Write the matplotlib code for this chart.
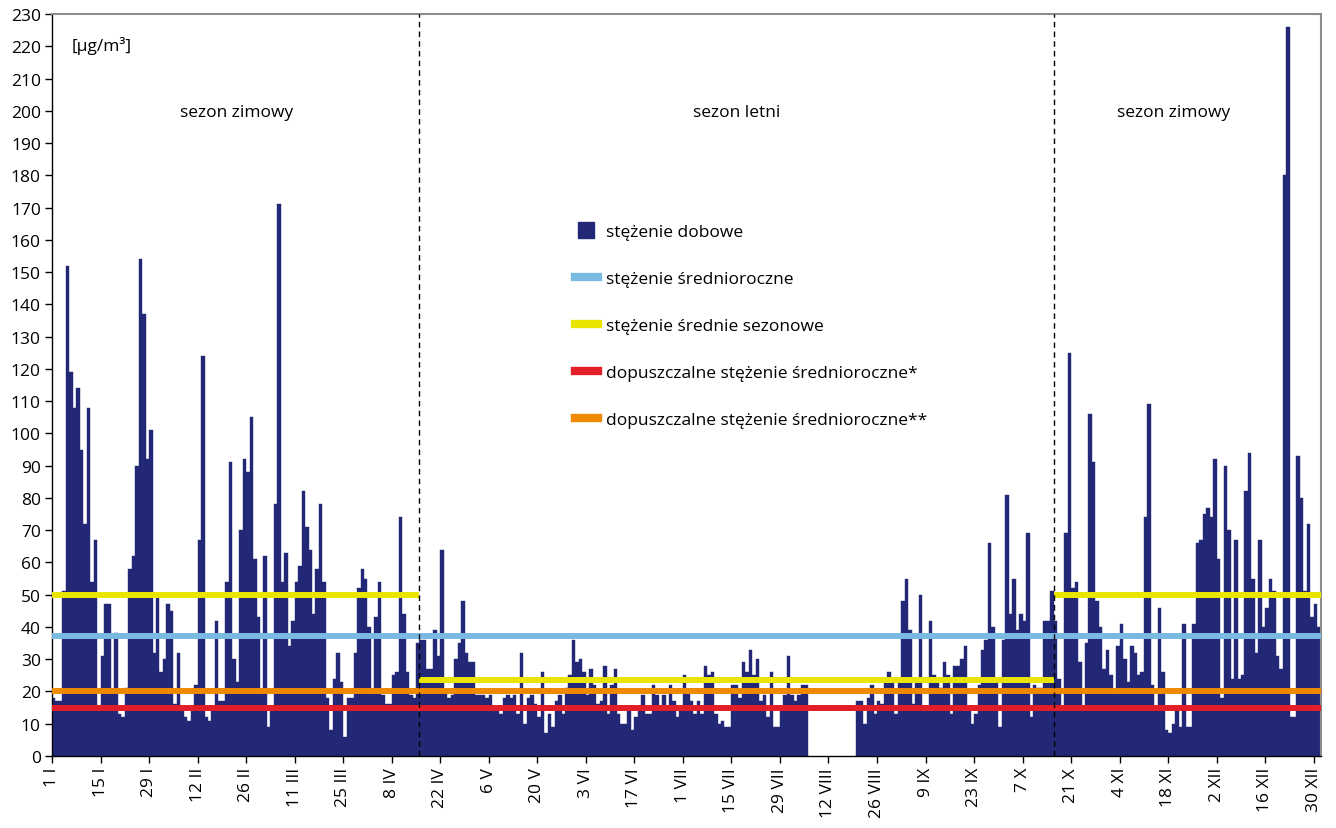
import matplotlib
matplotlib.use("Agg")
import matplotlib.pyplot as plt
import numpy as np
from matplotlib.lines import Line2D

plt.rcParams['font.family'] = ['Open Sans', 'DejaVu Sans']

# stężenie dobowe [µg/m³], rok przestępny, dzień po dniu
jan = [18, 17, 17, 51, 152, 119, 108, 114, 95, 72, 108, 54, 67, 14, 31, 47,
       47, 20, 38, 13, 12, 21, 58, 62, 90, 154, 137, 92, 101, 32, 49]
feb = [26, 30, 47, 45, 16, 32, 14, 12, 11, 14, 22, 67, 124, 12, 11, 14, 42,
       17, 17, 54, 91, 30, 23, 70, 92, 88, 105, 61, 43]
mar = [20, 62, 9, 14, 78, 171, 54, 63, 34, 42, 54, 59, 82, 71, 64, 44, 58,
       78, 54, 18, 8, 24, 32, 23, 6, 18, 18, 32, 52, 58, 55]
apr = [40, 20, 43, 54, 19, 16, 16, 25, 26, 74, 44, 26, 19, 18, 35, 36, 36,
       27, 27, 39, 31, 64, 20, 18, 19, 30, 35, 48, 32, 29]
may = [29, 19, 19, 19, 18, 19, 14, 14, 13, 18, 19, 18, 19, 13, 32, 10, 18,
       19, 16, 12, 26, 7, 13, 9, 17, 19, 13, 21, 25, 36, 29]
jun = [30, 26, 19, 27, 22, 16, 17, 28, 13, 22, 27, 13, 10, 10, 14, 8, 12,
       14, 19, 13, 13, 22, 19, 14, 19, 14, 22, 17, 12, 14]
jul = [25, 20, 17, 13, 17, 13, 28, 25, 26, 13, 10, 11, 9, 9, 22, 22, 18, 29,
       26, 33, 25, 30, 17, 19, 12, 26, 9, 9, 14, 19, 31]
aug = [19, 17, 19, 22, 22] + [None] * 14 + [17, 17, 10, 18, 22, 13, 17, 16,
                                            23, 26, 23, 13]
sep = [23, 48, 55, 39, 16, 23, 50, 14, 14, 42, 25, 23, 21, 29, 25, 13, 28,
       28, 30, 34, 14, 10, 13, 22, 33, 36, 66, 40, 23, 9]
oct_ = [36, 81, 44, 55, 39, 44, 42, 69, 12, 22, 21, 21, 42, 42, 51, 42, 24,
        15, 69, 125, 52, 54, 29, 15, 35, 106, 91, 48, 40, 27, 33]
nov = [25, 20, 34, 41, 30, 23, 34, 32, 25, 26, 74, 109, 22, 14, 46, 26, 8, 7,
       10, 14, 9, 41, 9, 9, 41, 66, 67, 75, 77, 74]
dec = [92, 61, 18, 90, 70, 24, 67, 24, 25, 82, 94, 55, 32, 67, 40, 46, 55, 51,
       31, 27, 180, 226, 12, 12, 93, 80, 51, 72, 43, 47, 40]

mean_year = 37.2      # stężenie średnioroczne
mean_winter = 49.8    # stężenie średnie sezonowe - zima
mean_summer = 23.5    # stężenie średnie sezonowe - lato
limit_1 = 15          # dopuszczalne stężenie średnioroczne*
limit_2 = 20          # dopuszczalne stężenie średnioroczne**
summer_start = 107    # 16 IV
winter_start = 290    # 16 X

tick_labels = ['1 I', '15 I', '29 I', '12 II', '26 II', '11 III', '25 III',
               '8 IV', '22 IV', '6 V', '20 V', '3 VI', '17 VI', '1 VII',
               '15 VII', '29 VII', '12 VIII', '26 VIII', '9 IX', '23 IX',
               '7 X', '21 X', '4 XI', '18 XI', '2 XII', '16 XII', '30 XII']

navy = '#232876'
c_blue = '#7ab9e2'
c_yellow = '#eae500'
c_red = '#e21e28'
c_orange = '#ee8900'

raw = jan + feb + mar + apr + may + jun + jul + aug + sep + oct_ + nov + dec
daily = np.array([np.nan if v is None else v for v in raw], dtype=float)
days = np.arange(1, len(daily) + 1)
ok = ~np.isnan(daily)

fig = plt.figure(figsize=(13.36, 8.29), dpi=100)
ax = fig.add_axes([52 / 1336, 1 - 757 / 829, 1268.7 / 1336, 742 / 829])

ax.bar(days[ok], daily[ok], width=1, align='edge', color=navy,
       edgecolor=navy, linewidth=0.3, zorder=2)

lw = 4.3
end = len(daily) + 1
ax.plot([1, end], [mean_year] * 2, color=c_blue, lw=lw, solid_capstyle='butt', zorder=3)
ax.plot([1, end], [limit_2] * 2, color=c_orange, lw=lw, solid_capstyle='butt', zorder=3)
ax.plot([1, end], [limit_1] * 2, color=c_red, lw=lw, solid_capstyle='butt', zorder=3)
ax.plot([1, summer_start], [mean_winter] * 2, color=c_yellow, lw=lw, solid_capstyle='butt', zorder=3)
ax.plot([summer_start, winter_start], [mean_summer] * 2, color=c_yellow, lw=lw, solid_capstyle='butt', zorder=3)
ax.plot([winter_start, end], [mean_winter] * 2, color=c_yellow, lw=lw, solid_capstyle='butt', zorder=3)

for xd in (summer_start, winter_start):
    ax.axvline(xd, color='black', lw=1, ls=(0, (4, 3)), zorder=4)

ax.set_xlim(1, end)
ax.set_ylim(0, 230)
ax.set_yticks(range(0, 231, 10))
ax.set_xticks(np.arange(1, len(daily), 14))
ax.set_xticklabels(tick_labels, rotation=90)
ax.tick_params(direction='out', length=5, width=1, labelsize=12.5, pad=3)

for s in ('top', 'right'):
    ax.spines[s].set_color('#8c8c8c')
    ax.spines[s].set_linewidth(1.5)
for s in ('left', 'bottom'):
    ax.spines[s].set_color('black')
    ax.spines[s].set_linewidth(1)

ax.text(6.8, 220.5, '[µg/m³]', fontsize=12.5, va='center', ha='left')
ax.text(54.3, 199.5, 'sezon zimowy', fontsize=12.5, ha='center', va='center')
ax.text(198.4, 199.5, 'sezon letni', fontsize=12.5, ha='center', va='center')
ax.text(324.6, 199.5, 'sezon zimowy', fontsize=12.5, ha='center', va='center')

handles = [
    Line2D([], [], marker='s', ls='none', color=navy, markersize=11),
    Line2D([], [], color=c_blue, lw=6),
    Line2D([], [], color=c_yellow, lw=6),
    Line2D([], [], color=c_red, lw=6),
    Line2D([], [], color=c_orange, lw=6),
]
labels = ['stężenie dobowe', 'stężenie średnioroczne',
          'stężenie średnie sezonowe', 'dopuszczalne stężenie średnioroczne*',
          'dopuszczalne stężenie średnioroczne**']
ax.legend(handles, labels, loc='upper left', bbox_to_anchor=(0.4, 0.738),
          frameon=False, fontsize=12.5, labelspacing=1.78, handlelength=1.3,
          handletextpad=0.5)

fig.savefig('out.png', dpi=100)
plt.close(fig)
